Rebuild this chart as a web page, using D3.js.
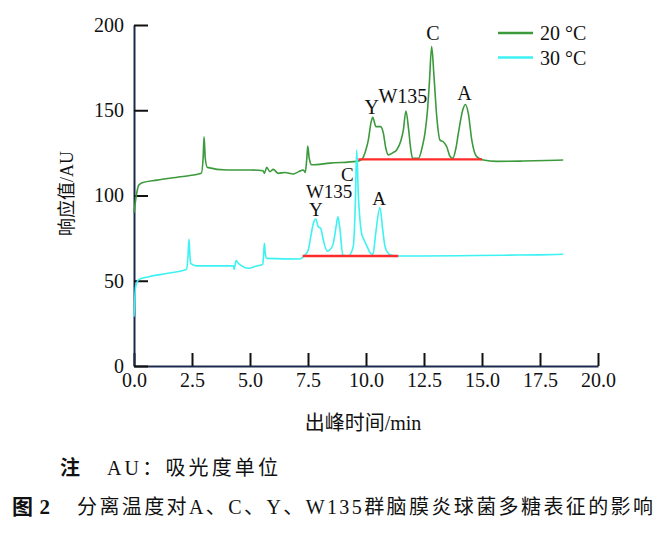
<!DOCTYPE html>
<html>
<head>
<meta charset="utf-8">
<script src="https://cdn.jsdelivr.net/npm/d3@7"></script>
<style>
  body { margin: 0; background: #fff; }
  svg text { font-family: "Liberation Serif", "Times New Roman", "Noto Sans CJK SC", serif; fill: #111; }
  .cjk { font-family: "Liberation Serif", "Noto Sans CJK SC", serif; }
</style>
</head>
<body>
<script>
// retention time (min) and response (AU)
const time20 = [0.0, 0.1, 0.2, 0.35, 1.0, 2.0, 2.9, 2.98, 3.02, 3.07, 3.16, 4.0, 5.0, 5.56, 5.62, 5.72, 5.86, 6.0, 6.22, 6.5, 6.87, 7.1, 7.3, 7.38, 7.45, 7.49, 7.55, 7.66, 8.45, 9.6, 9.81, 10.0, 10.1, 10.22, 10.29, 10.43, 10.63, 10.75, 10.85, 10.96, 11.15, 11.32, 11.5, 11.61, 11.72, 11.84, 11.93, 12.01, 12.26, 12.45, 12.54, 12.65, 12.73, 12.83, 12.93, 13.05, 13.19, 13.33, 13.48, 13.62, 13.74, 13.88, 13.98, 14.17, 14.28, 14.41, 14.56, 14.77, 15.06, 15.63, 16.78, 18.5];
const resp20 = [90, 100, 106, 107.5, 109, 111, 113, 122, 134.5, 122, 116.5, 115, 115, 114.5, 113, 116.5, 114, 115.3, 113, 113.5, 112.6, 114, 115, 113.5, 122, 129, 122, 118, 119, 120, 121, 127, 132.5, 143, 145.8, 140.4, 140.4, 136.4, 128, 123.8, 125, 126.7, 132, 138.4, 149.6, 138.4, 127, 121.8, 121.8, 130, 136.4, 150, 165.8, 187.3, 170, 146.2, 132.5, 131.5, 128.6, 123, 121.8, 128, 136.4, 150.1, 153.4, 148.2, 132.5, 122.8, 120.8, 120, 120.2, 120.8];

const time30 = [0.0, 0.07, 0.22, 0.65, 1.41, 2.27, 2.33, 2.37, 2.41, 2.44, 2.7, 4.28, 4.32, 4.4, 4.5, 4.64, 4.93, 5.29, 5.55, 5.59, 5.62, 5.66, 5.72, 7.16, 7.33, 7.51, 7.62, 7.73, 7.84, 7.94, 8.05, 8.16, 8.33, 8.5, 8.59, 8.71, 8.79, 8.88, 9.0, 9.24, 9.45, 9.54, 9.6, 9.67, 9.74, 9.81, 9.89, 10.05, 10.2, 10.3, 10.42, 10.6, 10.72, 10.82, 10.96, 11.1, 11.39, 12.0, 14.0, 16.0, 17.5, 18.5];
const resp30 = [28.9, 46.5, 50.8, 52.4, 54.3, 56.7, 65, 74.3, 65, 60.2, 58.7, 58.7, 56.7, 61.8, 60.2, 58.7, 57.3, 58.7, 59.6, 66, 71.9, 66, 63.1, 62.8, 64.5, 68, 76, 83.6, 86.2, 81.7, 80.7, 73.9, 67.4, 69, 71.9, 81.7, 87.5, 79.8, 65.1, 64.5, 70, 95, 126.7, 100, 85.6, 77.8, 74.8, 70, 66, 65.5, 78, 93, 80, 70, 66, 65, 64.5, 64.5, 64.7, 65, 65.2, 65.5];

// integration baselines (start/end time, level)
const base20 = [[9.67, 121.2], [15.0, 121.2]];
const base30 = [[7.27, 64.5], [11.39, 64.5]];

// peak labels
const labels20 = ["Y", "W135", "C", "A"];
const labelTime20 = [10.25, 11.59, 12.88, 14.24];
const labelResp20 = [152, 158.4, 195.1, 160.3];
const labels30 = ["Y", "W135", "C", "A"];
const labelTime30 = [7.84, 8.41, 9.2, 10.57];
const labelResp30 = [92, 102.6, 112.5, 98.4];

const xTicks = [0, 2.5, 5, 7.5, 10, 12.5, 15, 17.5, 20];
const yTicks = [0, 50, 100, 150, 200];
const seriesNames = ["20 °C", "30 °C"];
const seriesColors = ["#3c9a3c", "#3cf2f2"];

const margin = { top: 25, right: 69, bottom: 171, left: 134 };
const width = 667 - margin.left - margin.right;
const height = 537 - margin.top - margin.bottom;

const svg = d3.select("body")
  .append("svg")
  .attr("width", 667)
  .attr("height", 537);

const g = svg.append("g")
  .attr("transform", "translate(" + margin.left + "," + margin.top + ")");

const xScale = d3.scaleLinear().domain([0, 20]).range([0, width]);
const yScale = d3.scaleLinear().domain([0, 200]).range([height, 0]);

const xAxis = d3.axisBottom(xScale).tickValues(xTicks).tickFormat(d3.format(".1f"))
  .tickSizeInner(-13).tickSizeOuter(0).tickPadding(7);
const yAxis = d3.axisLeft(yScale).tickValues(yTicks).tickFormat(d3.format("d"))
  .tickSizeInner(-14).tickSizeOuter(0).tickPadding(10);

const gx = g.append("g").attr("transform", "translate(0," + height + ")").call(xAxis);
const gy = g.append("g").call(yAxis);

[gx, gy].forEach(a => {
  a.select(".domain").attr("stroke", "#1c2a4e").attr("stroke-width", 2);
  a.selectAll(".tick line").attr("stroke", "#111").attr("stroke-width", 2);
  a.selectAll(".tick text").style("font-size", "20px").style("font-family", "Liberation Serif").attr("fill", "#111");
});

// axis titles
g.append("text")
  .attr("class", "cjk")
  .attr("x", width / 2 - 3)
  .attr("y", height + 64)
  .attr("text-anchor", "middle")
  .style("font-size", "20px")
  .text("出峰时间/min");

g.append("text")
  .attr("class", "cjk")
  .attr("transform", "translate(-67," + (height / 2 - 2) + ") rotate(-90)")
  .attr("text-anchor", "middle")
  .attr("dy", "0.35em")
  .style("font-size", "18px")
  .text("响应值/AU");

const line = d3.line()
  .x(d => xScale(d[0]))
  .y(d => yScale(d[1]))
  .curve(d3.curveMonotoneX);

const data20 = time20.map((t, i) => [t, resp20[i]]);
const data30 = time30.map((t, i) => [t, resp30[i]]);

g.append("path").datum(data20)
  .attr("fill", "none").attr("stroke", seriesColors[0]).attr("stroke-width", 1.6)
  .attr("d", line);

g.append("path").datum(data30)
  .attr("fill", "none").attr("stroke", seriesColors[1]).attr("stroke-width", 1.6)
  .attr("d", line);

// red baselines
[base20, base30].forEach(b => {
  g.append("line")
    .attr("x1", xScale(b[0][0])).attr("y1", yScale(b[0][1]))
    .attr("x2", xScale(b[1][0])).attr("y2", yScale(b[1][1]))
    .attr("stroke", "#ff2b2b").attr("stroke-width", 2.4);
});

// peak labels
function addLabels(names, ts, vs, size) {
  g.selectAll(null)
    .data(names)
    .enter()
    .append("text")
    .attr("x", (d, i) => xScale(ts[i]))
    .attr("y", (d, i) => yScale(vs[i]))
    .attr("dy", "0.35em")
    .attr("text-anchor", "middle")
    .style("font-size", size)
    .text(d => d);
}
addLabels(labels20, labelTime20, labelResp20, "20px");
addLabels(labels30, labelTime30, labelResp30, "19px");

// legend
const legend = svg.append("g").attr("transform", "translate(498,33)");
seriesNames.forEach((name, i) => {
  legend.append("line")
    .attr("x1", 0).attr("x2", 35)
    .attr("y1", i * 24.5).attr("y2", i * 24.5)
    .attr("stroke", seriesColors[i]).attr("stroke-width", 2.4);
  legend.append("text")
    .attr("x", 42).attr("y", i * 24.5)
    .attr("dy", "0.35em")
    .style("font-size", "20px")
    .text(name);
});

// notes under the figure
svg.append("text").attr("class", "cjk")
  .attr("x", 60).attr("y", 468).attr("dy", "0.35em")
  .style("font-size", "20px").style("font-weight", "bold")
  .text("注");
svg.append("text").attr("class", "cjk")
  .attr("x", 107).attr("y", 468).attr("dy", "0.35em")
  .style("font-size", "20px")
  .attr("textLength", 171).attr("lengthAdjust", "spacing")
  .text("AU：吸光度单位");
svg.append("text").attr("class", "cjk")
  .attr("x", 12).attr("y", 507).attr("dy", "0.35em")
  .style("font-size", "21px").style("font-weight", "bold")
  .attr("textLength", 38).attr("lengthAdjust", "spacing")
  .text("图2");
svg.append("text").attr("class", "cjk")
  .attr("x", 77).attr("y", 507).attr("dy", "0.35em")
  .style("font-size", "20px")
  .attr("textLength", 576).attr("lengthAdjust", "spacing")
  .text("分离温度对A、C、Y、W135群脑膜炎球菌多糖表征的影响");
</script>
</body>
</html>
